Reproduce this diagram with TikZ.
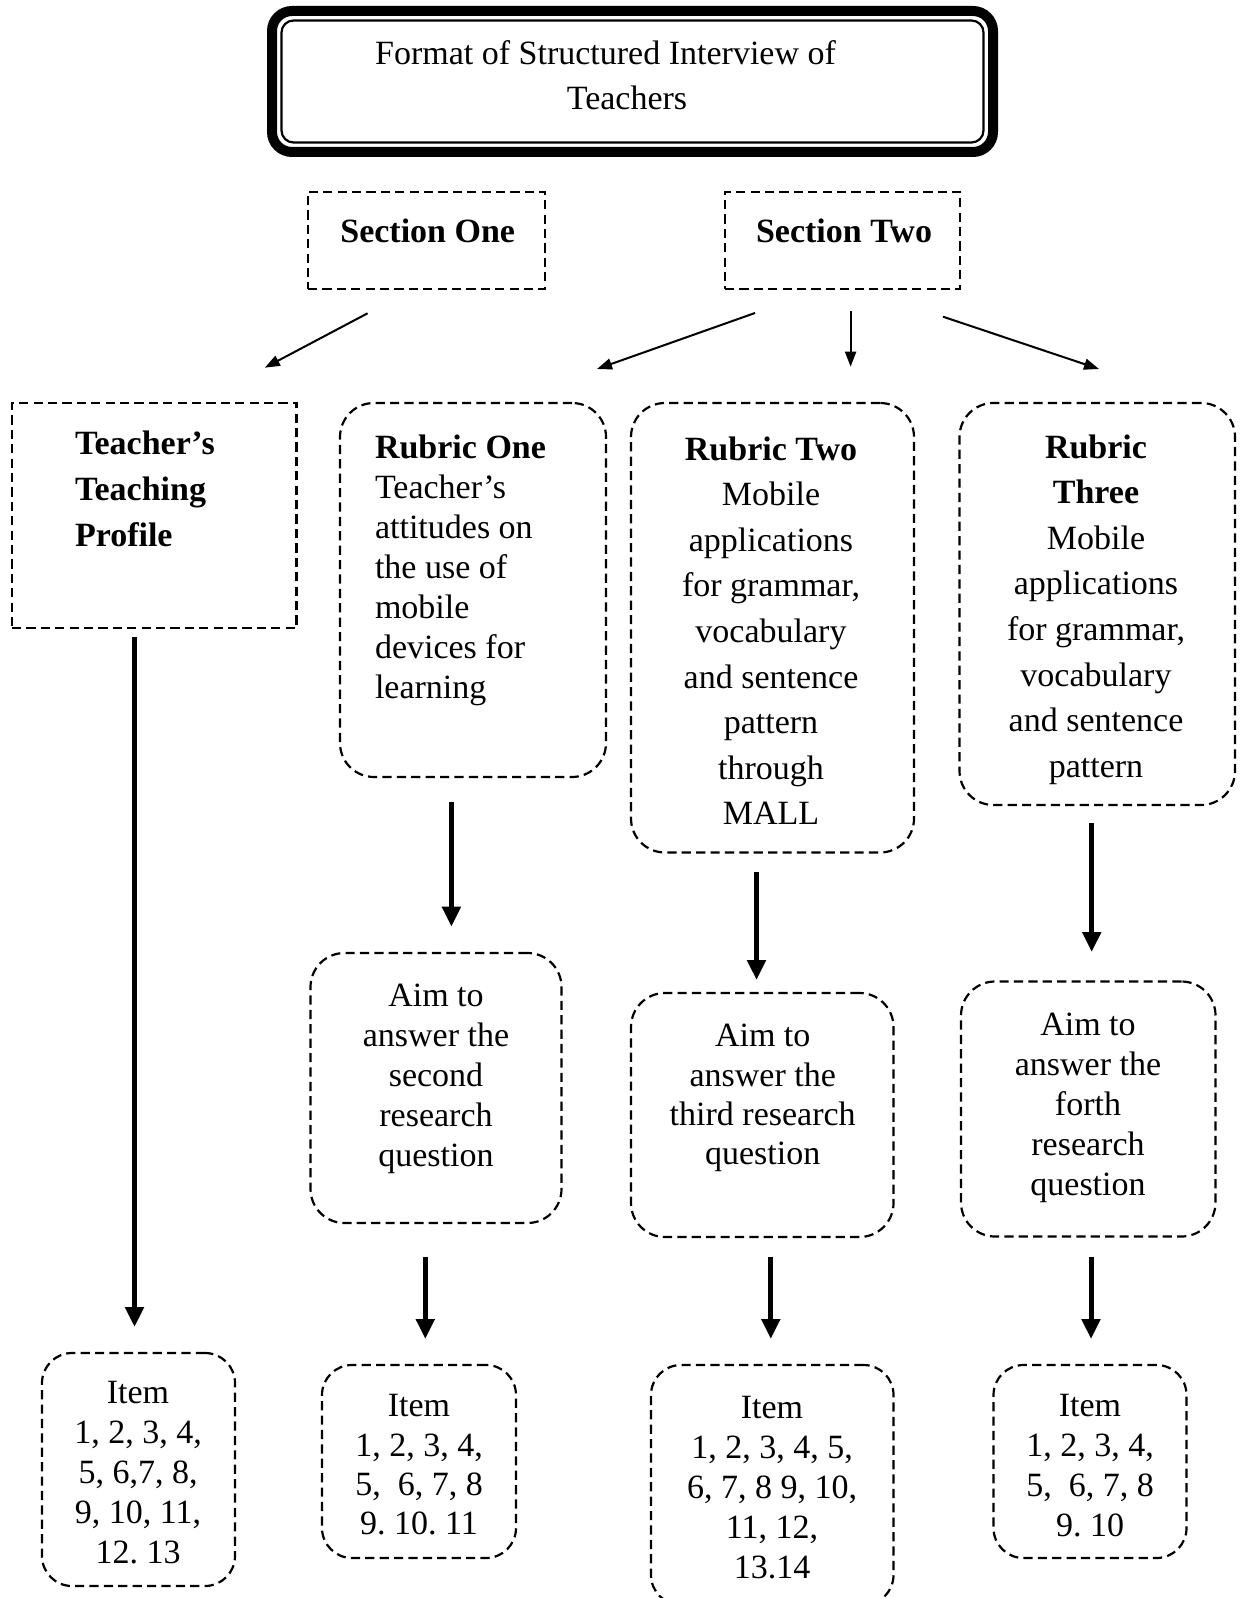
\documentclass[tikz,border=0pt]{standalone}
\usepackage{fontspec}
\setmainfont{Liberation Serif}
\usetikzlibrary{fit,arrows.meta}
\frenchspacing
% strut that fixes the height of the first text line
\newcommand\lnstrut{\rule{0pt}{14pt}}
\begin{document}
\begin{tikzpicture}[x=0.5pt,y=-0.5pt,
  every node/.style={inner sep=0pt,outer sep=0pt},
  dashbox/.style={draw,line width=1.1pt,dash pattern=on 4.6pt off 2.6pt},
  roundbox/.style={dashbox,rounded corners=17pt},
  itembox/.style={dashbox,rounded corners=15pt},
  txt/.style={font=\fontsize{17}{20}\selectfont,align=center,anchor=north},
  widetxt/.style={font=\fontsize{17}{22.8}\selectfont,align=center,anchor=north},
  thinarrow/.style={line width=1pt,-{Triangle[length=7.5pt,width=5.5pt]}},
  thickarrow/.style={line width=2.5pt,-{Triangle[length=10pt,width=9pt]}}]
\useasboundingbox (0,0) rectangle (1240,1598);

% ---- title with thick-thin frame
\node (titleframe) [fit={(272,11)(993,152)},draw,line width=5pt,rounded corners=10pt] {};
\node (titleinner) [fit={(281.5,20.5)(983.5,142.5)},draw,line width=1.1pt,rounded corners=6pt] {};
\node (titletext) [font=\fontsize{17}{22.5}\selectfont,align=center,anchor=north] at (627,37)
  {\lnstrut Format of Structured Interview of\hspace*{21.5pt}\\Teachers};

% ---- sections
\node (sec1) [dashbox,fit={(308,191.7)(545,289.3)}] {};
\node (sec2) [dashbox,fit={(725,191.7)(960,289.3)}] {};
\node (sec1text) [txt,font=\fontsize{17}{20}\selectfont\bfseries] at (427.7,214.7) {\lnstrut Section One};
\node (sec2text) [txt,font=\fontsize{17}{20}\selectfont\bfseries] at (844,214.7) {\lnstrut Section Two};

% ---- second level
\node (prof) [dashbox,fit={(12,403)(296.5,628)}] {};
\node (proftext) [font=\fontsize{17}{22.8}\selectfont\bfseries,align=left,anchor=north west] at (75,427)
  {\lnstrut Teacher’s\\Teaching\\Profile};

\node (r1) [roundbox,fit={(340,403)(606,777)}] {};
\node (r1text) [font=\fontsize{17}{20}\selectfont,align=left,anchor=north west] at (375,430)
  {\lnstrut\textbf{Rubric One}\\Teacher’s\\attitudes on\\the use of\\mobile\\devices for\\learning};

\node (r2) [roundbox,fit={(631,403)(914,852.5)}] {};
\node (r2text) [widetxt] at (771,432)
  {\lnstrut\textbf{Rubric Two}\\Mobile\\applications\\for grammar,\\vocabulary\\and sentence\\pattern\\through\\MALL};

\node (r3) [roundbox,fit={(959.5,403)(1235,805)}] {};
\node (r3text) [widetxt] at (1096,430)
  {\lnstrut\textbf{Rubric}\\\textbf{Three}\\Mobile\\applications\\for grammar,\\vocabulary\\and sentence\\pattern};

% ---- aims
\node (aim1) [roundbox,fit={(310.5,953)(561.5,1223)}] {};
\node (aim1text) [txt] at (436,978.7)
  {\lnstrut Aim to\\answer the\\second\\research\\question};
\node (aim2) [roundbox,fit={(631,993)(893.5,1237)}] {};
\node (aim2text) [txt,font=\fontsize{17}{19.7}\selectfont] at (762.7,1018.7)
  {\lnstrut Aim to\\answer the\\third research\\question};
\node (aim3) [roundbox,fit={(961,981.5)(1215.5,1236.5)}] {};
\node (aim3text) [txt] at (1088,1007)
  {\lnstrut Aim to\\answer the\\forth\\research\\question};

% ---- items
\node (item1) [itembox,fit={(42,1353)(235,1586)}] {};
\node (item1text) [txt] at (138,1375)
  {\lnstrut Item\\1, 2, 3, 4,\\5, 6,7, 8,\\9, 10, 11,\\12. 13};
\node (item2) [itembox,fit={(322,1365)(516,1558)}] {};
\node (item2text) [txt,font=\fontsize{17}{19.7}\selectfont] at (419,1388.7)
  {\lnstrut Item\\1, 2, 3, 4,\\5,\ \ 6, 7, 8\\9. 10. 11};
\node (item3) [itembox,fit={(651,1365)(893.5,1605)}] {};
\node (item3text) [txt] at (772,1390)
  {\lnstrut Item\\1, 2, 3, 4, 5,\\6, 7, 8 9, 10,\\11, 12,\\13.14};
\node (item4) [itembox,fit={(993.5,1365)(1186.5,1558)}] {};
\node (item4text) [txt,font=\fontsize{17}{19.9}\selectfont] at (1090,1388.7)
  {\lnstrut Item\\1, 2, 3, 4,\\5,\ \ 6, 7, 8\\9. 10};

% ---- connector end points
\coordinate (s1from) at (367.6,313.3);  \coordinate (s1to) at (264.8,367.7);
\coordinate (s2afrom) at (755,313);     \coordinate (s2ato) at (597,369);
\coordinate (s2bfrom) at (850.6,311);   \coordinate (s2bto) at (850.6,366.7);
\coordinate (s2cfrom) at (943,316.7);   \coordinate (s2cto) at (1099,369);
\coordinate (pfrom) at (134.5,637);     \coordinate (pto) at (134.5,1327);
\coordinate (r1from) at (451.4,802);    \coordinate (r1to) at (451.4,926.7);
\coordinate (r2from) at (756.5,871.7);  \coordinate (r2to) at (756.5,980);
\coordinate (r3from) at (1091.7,823);   \coordinate (r3to) at (1091.7,952);
\coordinate (a1from) at (425.3,1256.7); \coordinate (a1to) at (425.3,1339);
\coordinate (a2from) at (770.8,1256.7); \coordinate (a2to) at (770.8,1339);
\coordinate (a3from) at (1091,1256.7);  \coordinate (a3to) at (1091,1339);

% ---- connectors
\draw[thinarrow] (s1from) -- (s1to);
\draw[thinarrow] (s2afrom) -- (s2ato);
\draw[thinarrow] (s2bfrom) -- (s2bto);
\draw[thinarrow] (s2cfrom) -- (s2cto);
\draw[thickarrow] (pfrom) -- (pto);
\draw[thickarrow] (r1from) -- (r1to);
\draw[thickarrow] (r2from) -- (r2to);
\draw[thickarrow] (r3from) -- (r3to);
\draw[thickarrow] (a1from) -- (a1to);
\draw[thickarrow] (a2from) -- (a2to);
\draw[thickarrow] (a3from) -- (a3to);
\end{tikzpicture}
\end{document}
